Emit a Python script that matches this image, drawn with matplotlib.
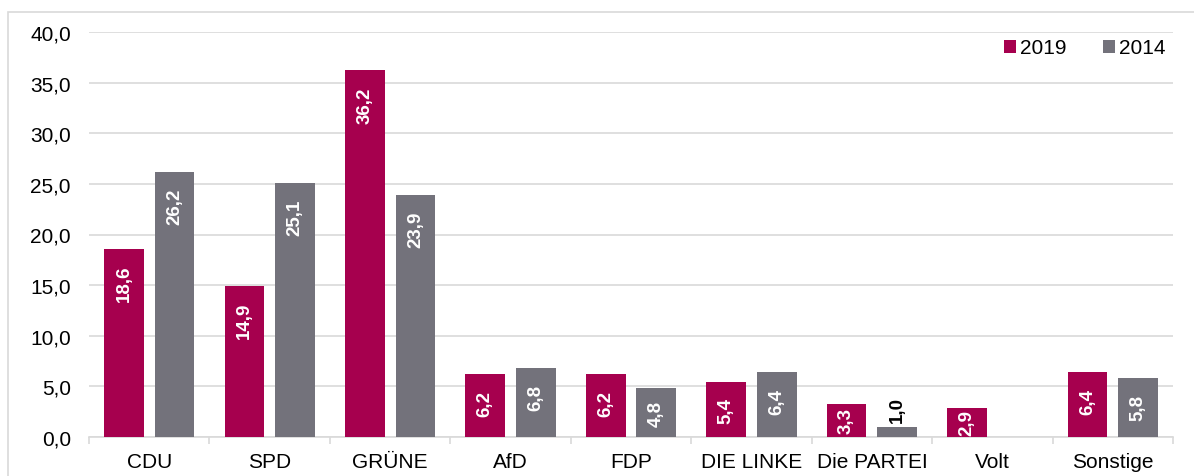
import matplotlib
matplotlib.use("Agg")
import matplotlib.pyplot as plt
import numpy as np
from matplotlib.patches import Rectangle

plt.rcParams["font.family"] = ["Liberation Sans", "DejaVu Sans"]

# Data
parties = ["CDU", "SPD", "GRÜNE", "AfD", "FDP", "DIE LINKE", "Die PARTEI", "Volt", "Sonstige"]
votes_2019 = [18.6, 14.9, 36.2, 6.2, 6.2, 5.4, 3.3, 2.9, 6.4]
votes_2014 = [26.2, 25.1, 23.9, 6.8, 4.8, 6.4, 1.0, None, 5.8]
series_labels = ["2019", "2014"]
y_ticks = [0, 5, 10, 15, 20, 25, 30, 35, 40]

COL_2019 = "#A6004E"
COL_2014 = "#73727B"
GRID = "#D9D9D9"

W, H = 1194, 477
fig = plt.figure(figsize=(W / 100, H / 100), dpi=100)
# light frame around the chart (cut at right/bottom edges)
fig.patches.append(Rectangle((8 / W, -0.1), 1.2, 1 - 13 / H + 0.1,
                             transform=fig.transFigure, fill=False,
                             edgecolor=GRID, lw=1.2))
ax = fig.add_axes([89 / W, 1 - 438 / H, (1173 - 89) / W, (438 - 33) / H])

x = np.arange(len(parties))
width = 0.33
off = 0.21
LABEL_SIZE = 13.5
PX_PER_UNIT = 405 / 40


def fmt(v):
    return f"{v:.1f}".replace(".", ",")


def label_bars(xs, vals):
    for xi, v in zip(xs, vals):
        if v is None:
            continue
        s = fmt(v)
        if v < 2:
            ax.text(xi, v + 0.5, s, rotation=90, ha="center", va="bottom",
                    color="black", fontsize=LABEL_SIZE, fontweight="bold")
            continue
        # rough length of the rotated label in data units
        em = LABEL_SIZE * 100 / 72
        n_dig = len(s) - 1
        text_len = (n_dig * 0.556 + 0.278) * em / PX_PER_UNIT
        gap = min(1.55, max((v - text_len) / 2, 0.0))
        ax.text(xi, v - gap, s, rotation=90, ha="center", va="top",
                color="white", fontsize=LABEL_SIZE, fontweight="bold")


v19 = [v if v is not None else 0 for v in votes_2019]
v14 = [v if v is not None else 0 for v in votes_2014]
ax.bar(x - off, v19, width, color=COL_2019, label=series_labels[0], zorder=3)
ax.bar(x + off, v14, width, color=COL_2014, label=series_labels[1], zorder=3)
label_bars(x - off, votes_2019)
label_bars(x + off, votes_2014)

ax.set_xlim(-0.5, len(parties) - 0.5)
ax.set_ylim(0, 40)
ax.set_yticks(y_ticks)
ax.set_yticklabels([fmt(t) for t in y_ticks], fontsize=15)
ax.yaxis.grid(True, color=GRID, lw=1.2, zorder=0)
ax.set_axisbelow(True)
ax.tick_params(axis="y", length=0, pad=13)

ax.set_xticks(x)
ax.set_xticklabels(parties, fontsize=15)
ax.tick_params(axis="x", length=0, pad=11)
ax.set_xticks(np.arange(-0.5, len(parties)), minor=True)
ax.tick_params(axis="x", which="minor", length=5, color=GRID, width=1.2)

for s in ["top", "right", "left"]:
    ax.spines[s].set_visible(False)
ax.spines["bottom"].set_color(GRID)
ax.spines["bottom"].set_linewidth(1.2)

ax.legend(loc="center right", frameon=False, fontsize=15, handlelength=0.57,
          handleheight=0.57, handletextpad=0.2, ncol=2, columnspacing=1.75,
          borderpad=0, borderaxespad=0,
          bbox_to_anchor=(1166 / W, 1 - 49 / H), bbox_transform=fig.transFigure)

fig.savefig("out.png", dpi=100)
